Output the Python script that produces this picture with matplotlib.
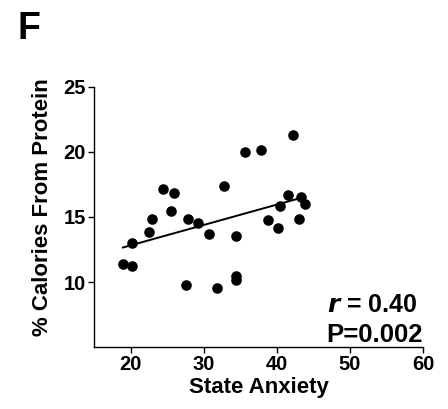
import numpy as np
import matplotlib
matplotlib.use("Agg")
import matplotlib.pyplot as plt

plt.rcParams['font.family'] = ['Liberation Sans', 'DejaVu Sans']

state_anxiety = [18.95, 20.14, 20.23, 22.55, 22.95, 24.45, 25.95, 25.6, 27.8, 27.55,
                 29.2, 30.73, 32.8, 31.8, 34.36, 34.36, 34.4, 35.6, 37.8, 38.86,
                 40.1, 40.45, 41.5, 42.18, 43.1, 43.3, 43.86]
protein_pct = [11.36, 11.23, 13.03, 13.85, 14.85, 17.18, 16.85, 15.46, 14.82, 9.79,
               14.51, 13.69, 17.41, 9.54, 13.54, 10.46, 10.15, 20.0, 20.13, 14.74,
               14.13, 15.82, 16.67, 21.31, 14.85, 16.51, 16.0]
x_ticks = [20, 30, 40, 50, 60]
y_ticks = [10, 15, 20, 25]

fig = plt.figure(figsize=(4.48, 4.09), dpi=100)
ax = fig.add_axes([94/448, 1-347/409, (423-94)/448, (347-87)/409])

x = np.array(state_anxiety)
y = np.array(protein_pct)
ax.scatter(x, y, s=58, color='black', zorder=3, linewidths=0)
slope, intercept = np.polyfit(x, y, 1)
xl = np.array([x.min(), 43.1])
ax.plot(xl, slope*xl + intercept, color='black', lw=1.4, zorder=2)

ax.set_xlim(15, 60)
ax.set_ylim(5, 25)
ax.set_xticks(x_ticks)
ax.set_yticks(y_ticks)
for s in ['top', 'right']:
    ax.spines[s].set_visible(False)
for s in ['left', 'bottom']:
    ax.spines[s].set_linewidth(1.0)
ax.tick_params(direction='out', length=4, width=1, labelsize=14.5, pad=2)
for lab in ax.get_xticklabels() + ax.get_yticklabels():
    lab.set_fontweight('bold')
ax.set_xlabel('State Anxiety', fontsize=16, fontweight='bold', labelpad=2)
ax.set_ylabel('% Calories From Protein', fontsize=16, fontweight='bold')
ax.yaxis.set_label_coords((53-94)/329, (347-207)/260)

ax.text((327-94)/329, (347-312)/260, r'$\mathbfit{r}$ = 0.40', transform=ax.transAxes, ha='left', va='baseline',
        fontsize=18, fontweight='bold')
ax.text(1.0, (347-342)/260, 'P=0.002', transform=ax.transAxes, ha='right', va='baseline',
        fontsize=18.5, fontweight='bold')

fig.text(17/448, 1-39/409, 'F', fontsize=27, fontweight='bold', ha='left', va='baseline')

fig.savefig('out.png', dpi=100)
